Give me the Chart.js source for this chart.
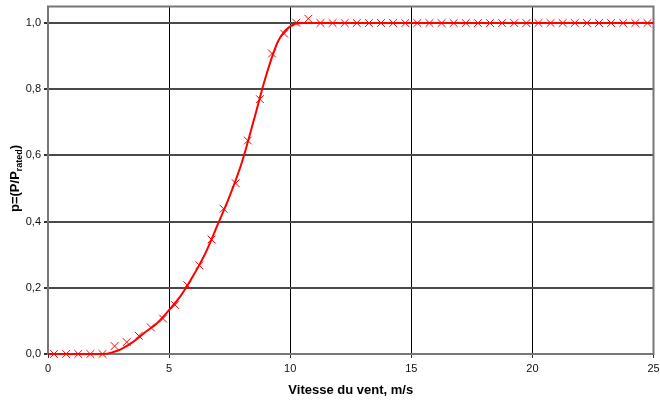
<!DOCTYPE html>
<html>
<head>
<meta charset="utf-8">
<script src="https://cdn.jsdelivr.net/npm/chart.js@4"></script>
<style>
html, body { margin: 0; padding: 0; background: #fff; }
#wrap { width: 660px; height: 405px; }
</style>
</head>
<body>
<div id="wrap"><canvas id="myChart" width="660" height="405"></canvas></div>
<script>
// measured points (crosses)
var markerX = [0.25, 0.75, 1.25, 1.75, 2.25, 2.75, 3.25, 3.75, 4.25, 4.75,
	5.25, 5.75, 6.25, 6.75, 7.25, 7.75, 8.25, 8.75, 9.25, 9.75,
	10.25, 10.75, 11.25, 11.75, 12.25, 12.75, 13.25, 13.75, 14.25, 14.75,
	15.25, 15.75, 16.25, 16.75, 17.25, 17.75, 18.25, 18.75, 19.25, 19.75,
	20.25, 20.75, 21.25, 21.75, 22.25, 22.75, 23.25, 23.75, 24.25, 24.75];
var markerY = [0, 0, 0, 0, 0, 0.024, 0.036, 0.055, 0.080, 0.107,
	0.148, 0.208, 0.268, 0.346, 0.439, 0.516, 0.645, 0.770, 0.908, 0.968,
	1.001, 1.013, 1, 1, 1, 1, 1, 1, 1, 1,
	1, 1, 1, 1, 1, 1, 1, 1, 1, 1,
	1, 1, 1, 1, 1, 1, 1, 1, 1, 1];

// model curve
var curveX = [0, 0.5, 1, 1.5, 2, 2.3, 2.7, 3, 3.5, 4, 4.5, 5, 5.5, 6, 6.5, 7, 7.5, 8, 8.5, 9, 9.5, 10, 10.5, 11, 25];
var curveY = [0, 0, 0, 0, 0, 0, 0.006, 0.014, 0.036, 0.065, 0.093, 0.133, 0.178, 0.237, 0.305, 0.39, 0.477, 0.578, 0.707, 0.84, 0.945, 0.99, 1.0, 1.0, 1.0];

var xTicks = [0, 5, 10, 15, 20, 25];
var yTicks = [0, 0.2, 0.4, 0.6, 0.8, 1.0];

var xTitle = 'Vitesse du vent, m/s';
var yTitleMain = 'p=(P/P';
var yTitleSub = 'rated';
var yTitleEnd = ')';

var fontFam = '"Liberation Sans", Arial, sans-serif';

function toPoints(xs, ys) {
	return xs.map(function(x, i) { return {x: x, y: ys[i]}; });
}

var frameAndTitle = {
	id: 'frameAndTitle',
	beforeDatasetsDraw: function(chart) {
		var ctx = chart.ctx, a = chart.chartArea;
		ctx.save();
		ctx.strokeStyle = '#777';
		ctx.lineWidth = 2;
		ctx.strokeRect(a.left, a.top, a.right - a.left, a.bottom - a.top);
		ctx.restore();
	},
	afterDraw: function(chart) {
		var ctx = chart.ctx;
		ctx.save();
		ctx.translate(19, 212);
		ctx.rotate(-Math.PI / 2);
		ctx.fillStyle = '#000';
		ctx.textBaseline = 'alphabetic';
		ctx.font = 'bold 13px ' + fontFam;
		ctx.fillText(yTitleMain, 0, 0);
		var w = ctx.measureText(yTitleMain).width;
		ctx.font = 'bold 9px ' + fontFam;
		ctx.fillText(yTitleSub, w, 3);
		var w2 = ctx.measureText(yTitleSub).width;
		ctx.font = 'bold 13px ' + fontFam;
		ctx.fillText(yTitleEnd, w + w2, 0);
		ctx.restore();
	}
};

var config = {
	type: 'scatter',
	data: {
		datasets: [{
			label: 'curve',
			data: toPoints(curveX, curveY),
			showLine: true,
			borderColor: '#ff0000',
			borderWidth: 2,
			pointRadius: 0,
			cubicInterpolationMode: 'monotone',
			clip: false
		}, {
			label: 'measured',
			data: toPoints(markerX, markerY),
			showLine: false,
			pointStyle: 'crossRot',
			pointRadius: 5.5,
			borderColor: '#ff0000',
			backgroundColor: '#ff0000',
			borderWidth: 1,
			clip: false
		}]
	},
	options: {
		responsive: false,
		animation: false,
		layout: { padding: { top: 5, right: 5, left: 0, bottom: 0 } },
		plugins: {
			legend: { display: false },
			tooltip: { enabled: false }
		},
		scales: {
			x: {
				type: 'linear',
				min: 0,
				max: 25,
				afterBuildTicks: function(axis) {
					axis.ticks = xTicks.map(function(v) { return {value: v}; });
				},
				afterFit: function(scale) {
					scale.height = 51;
					scale.paddingLeft = 0;
					scale.paddingRight = 0;
				},
				grid: {
					color: function(c) {
						return (c.tick && (c.tick.value === 0 || c.tick.value === 25)) ? 'rgba(0,0,0,0)' : '#000';
					},
					tickColor: '#333',
					lineWidth: 1,
					tickLength: 4
				},
				border: { display: false },
				ticks: {
					color: '#111',
					padding: 4,
					maxRotation: 0,
					font: { family: fontFam, size: 11 }
				},
				title: {
					display: true,
					text: xTitle,
					color: '#000',
					padding: { top: 0, bottom: 7 },
					font: { family: fontFam, size: 13, weight: 'bold' }
				}
			},
			y: {
				type: 'linear',
				min: 0,
				max: 1.05,
				afterBuildTicks: function(axis) {
					axis.ticks = yTicks.map(function(v) { return {value: v}; });
				},
				afterFit: function(scale) {
					scale.width = 48;
					scale.paddingTop = 0;
					scale.paddingBottom = 0;
				},
				grid: {
					color: function(c) {
						return (c.tick && c.tick.value === 0) ? 'rgba(0,0,0,0)' : '#4a4a4a';
					},
					tickColor: '#333',
					lineWidth: 2,
					tickLength: 4
				},
				border: { display: false },
				ticks: {
					color: '#111',
					padding: 3,
					font: { family: fontFam, size: 11 },
					callback: function(v) { return v.toFixed(1).replace('.', ','); }
				}
			}
		}
	},
	plugins: [frameAndTitle]
};

var myChart = new Chart(document.getElementById('myChart'), config);
</script>
</body>
</html>
